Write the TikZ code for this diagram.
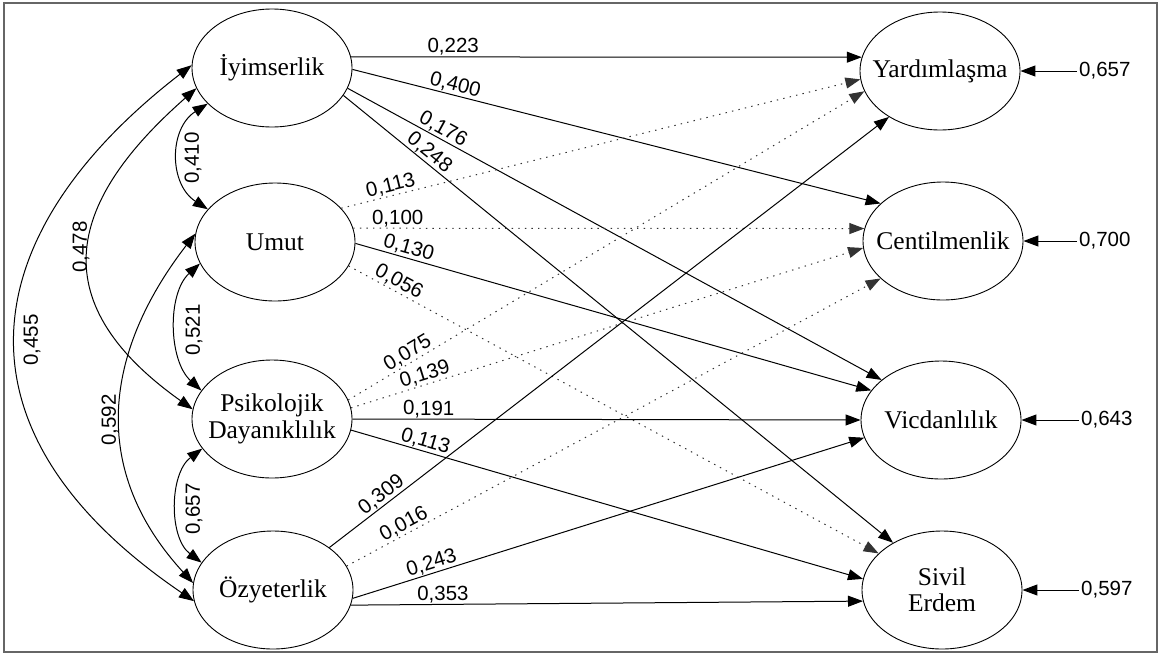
\documentclass[tikz,border=0pt]{standalone}
\usepackage{fontspec}
\setmainfont{Liberation Serif}
\newfontfamily\numfont{Liberation Sans}
\usetikzlibrary{arrows.meta,shapes.geometric}
\newcommand\zbox[1]{\makebox[0pt]{#1}}
\begin{document}
\begin{tikzpicture}[x=1pt,y=-1pt,
  latnode/.style={ellipse, draw, line width=0.9pt, minimum width=160pt, minimum height=118pt, inner sep=0pt, align=center, font=\fontsize{25.5}{26.5}\selectfont},
  patharr/.style={-{Triangle[length=15pt,width=11pt]}, line width=1pt},
  dotarr/.style={patharr, dash pattern=on 1.4pt off 5.2pt, draw=black!80},
  covarr/.style={{Triangle[length=15pt,width=11pt]}-{Triangle[length=15pt,width=11pt]}, line width=1pt},
  numlab/.style={font=\numfont\fontsize{20.5}{22}\selectfont, inner sep=1pt},
]
\useasboundingbox (0,0) rectangle (1161,654);
\draw[black!60, line width=1.5pt] (4,3) rectangle (1157,652);

% latent nodes
\node[latnode] (iy) at (272,68) {\zbox{İyimserlik}};
\node[latnode] (um) at (275,242) {\zbox{Umut}};
\node[latnode] (ps) at (272,419) {\zbox{Psikolojik}\\\zbox{Dayanıklılık}};
\node[latnode] (oz) at (273,590) {\zbox{Özyeterlik}};
\node[latnode] (ya) at (940,71) {\zbox{Yardımlaşma}};
\node[latnode] (ce) at (943,241) {\zbox{Centilmenlik}};
\node[latnode] (vi) at (941,420) {\zbox{Vicdanlılık}};
\node[latnode] (si) at (942,590) {\zbox{Sivil}\\\zbox{Erdem}};

% residuals
\node[numlab, anchor=west, inner sep=2pt] (r1) at (1077,71) {0,657};
\node[numlab, anchor=west, inner sep=2pt] (r2) at (1077,241) {0,700};
\node[numlab, anchor=west, inner sep=2pt] (r3) at (1079,420) {0,643};
\node[numlab, anchor=west, inner sep=2pt] (r4) at (1079,590) {0,597};
\draw[patharr] (r1.west) -- (ya.east);
\draw[patharr] (r2.west) -- (ce.east);
\draw[patharr] (r3.west) -- (vi.east);
\draw[patharr] (r4.west) -- (si.east);

% paths from İyimserlik
\draw[patharr] (iy.8) -- node[numlab, pos=0.2, above, sloped] (l1) {0,223} (ya.170);
\draw[patharr] (iy.-1) -- node[numlab, pos=0.19, above, sloped] (l2) {0,400} (ce.149);
\draw[patharr] (iy.-15) -- node[numlab, pos=0.17, above, sloped] (l3) {0,176} (vi.146);
\draw[patharr] (iy.-21) -- node[numlab, pos=0.145, above, sloped] (l4) {0,248} (si.136);
% paths from Umut
\draw[dotarr] (um.27) -- node[numlab, pos=0.1, above, sloped] (l5) {0,113} (ya.186);
\draw[dotarr] (um.10) -- node[numlab, pos=0.087, above, sloped] (l6) {0,100} (ce.171);
\draw[patharr] (um.-1) -- node[numlab, pos=0.098, above, sloped] (l7) {0,130} (vi.157);
\draw[dotarr] (um.-18) -- node[numlab, pos=0.086, above, sloped] (l8) {0,056} (si.150);
% paths from Psikolojik Dayanıklılık
\draw[dotarr] (ps.14) -- node[numlab, pos=0.125, above, sloped] (l9) {0,075} (ya.195);
\draw[dotarr] (ps.8) -- node[numlab, pos=0.15, above, sloped] (l10) {0,139} (ce.185);
\draw[patharr] (ps.0) -- node[numlab, pos=0.15, above, sloped] (l11) {0,191} (vi.180);
\draw[patharr] (ps.-8) -- node[numlab, pos=0.14, above, sloped] (l12) {0,113} (si.172);
% paths from Özyeterlik
\draw[patharr] (oz.37) -- node[numlab, pos=0.104, above, sloped] (l13) {0,309} (ya.222);
\draw[dotarr] (oz.18) -- node[numlab, pos=0.116, above, sloped] (l14) {0,016} (ce.211);
\draw[patharr] (oz.-6) -- node[numlab, pos=0.16, above, sloped] (l15) {0,243} (vi.193);
\draw[patharr] (oz.-11) -- node[numlab, pos=0.18, above, sloped] (l16) {0,353} (si.188);

% covariances
\draw[covarr] (iy.209) .. controls +(-39,25) and +(-39,-25) .. (um.154);
\draw[covarr] (um.196) .. controls +(-33,30) and +(-33,-30) .. (ps.158);
\draw[covarr] (ps.203) .. controls +(-33,25) and +(-33,-25) .. (oz.159);
\draw[covarr] (iy.195) .. controls +(-125,110) and +(-155,-110) .. (ps.173);
\draw[covarr] (um.174) .. controls +(-85,110) and +(-110,-120) .. (oz.175);
\draw[covarr] (iy.178) .. controls +(-220,170) and +(-250,-170) .. (oz.188);
\node[numlab, rotate=90] (c1) at (193,158) {0,410};
\node[numlab, rotate=90] (c2) at (194,330) {0,521};
\node[numlab, rotate=90] (c3) at (194,509) {0,657};
\node[numlab, rotate=90] (c4) at (81,247) {0,478};
\node[numlab, rotate=90] (c5) at (110,420) {0,592};
\node[numlab, rotate=90] (c6) at (32,340) {0,455};
\end{tikzpicture}
\end{document}
